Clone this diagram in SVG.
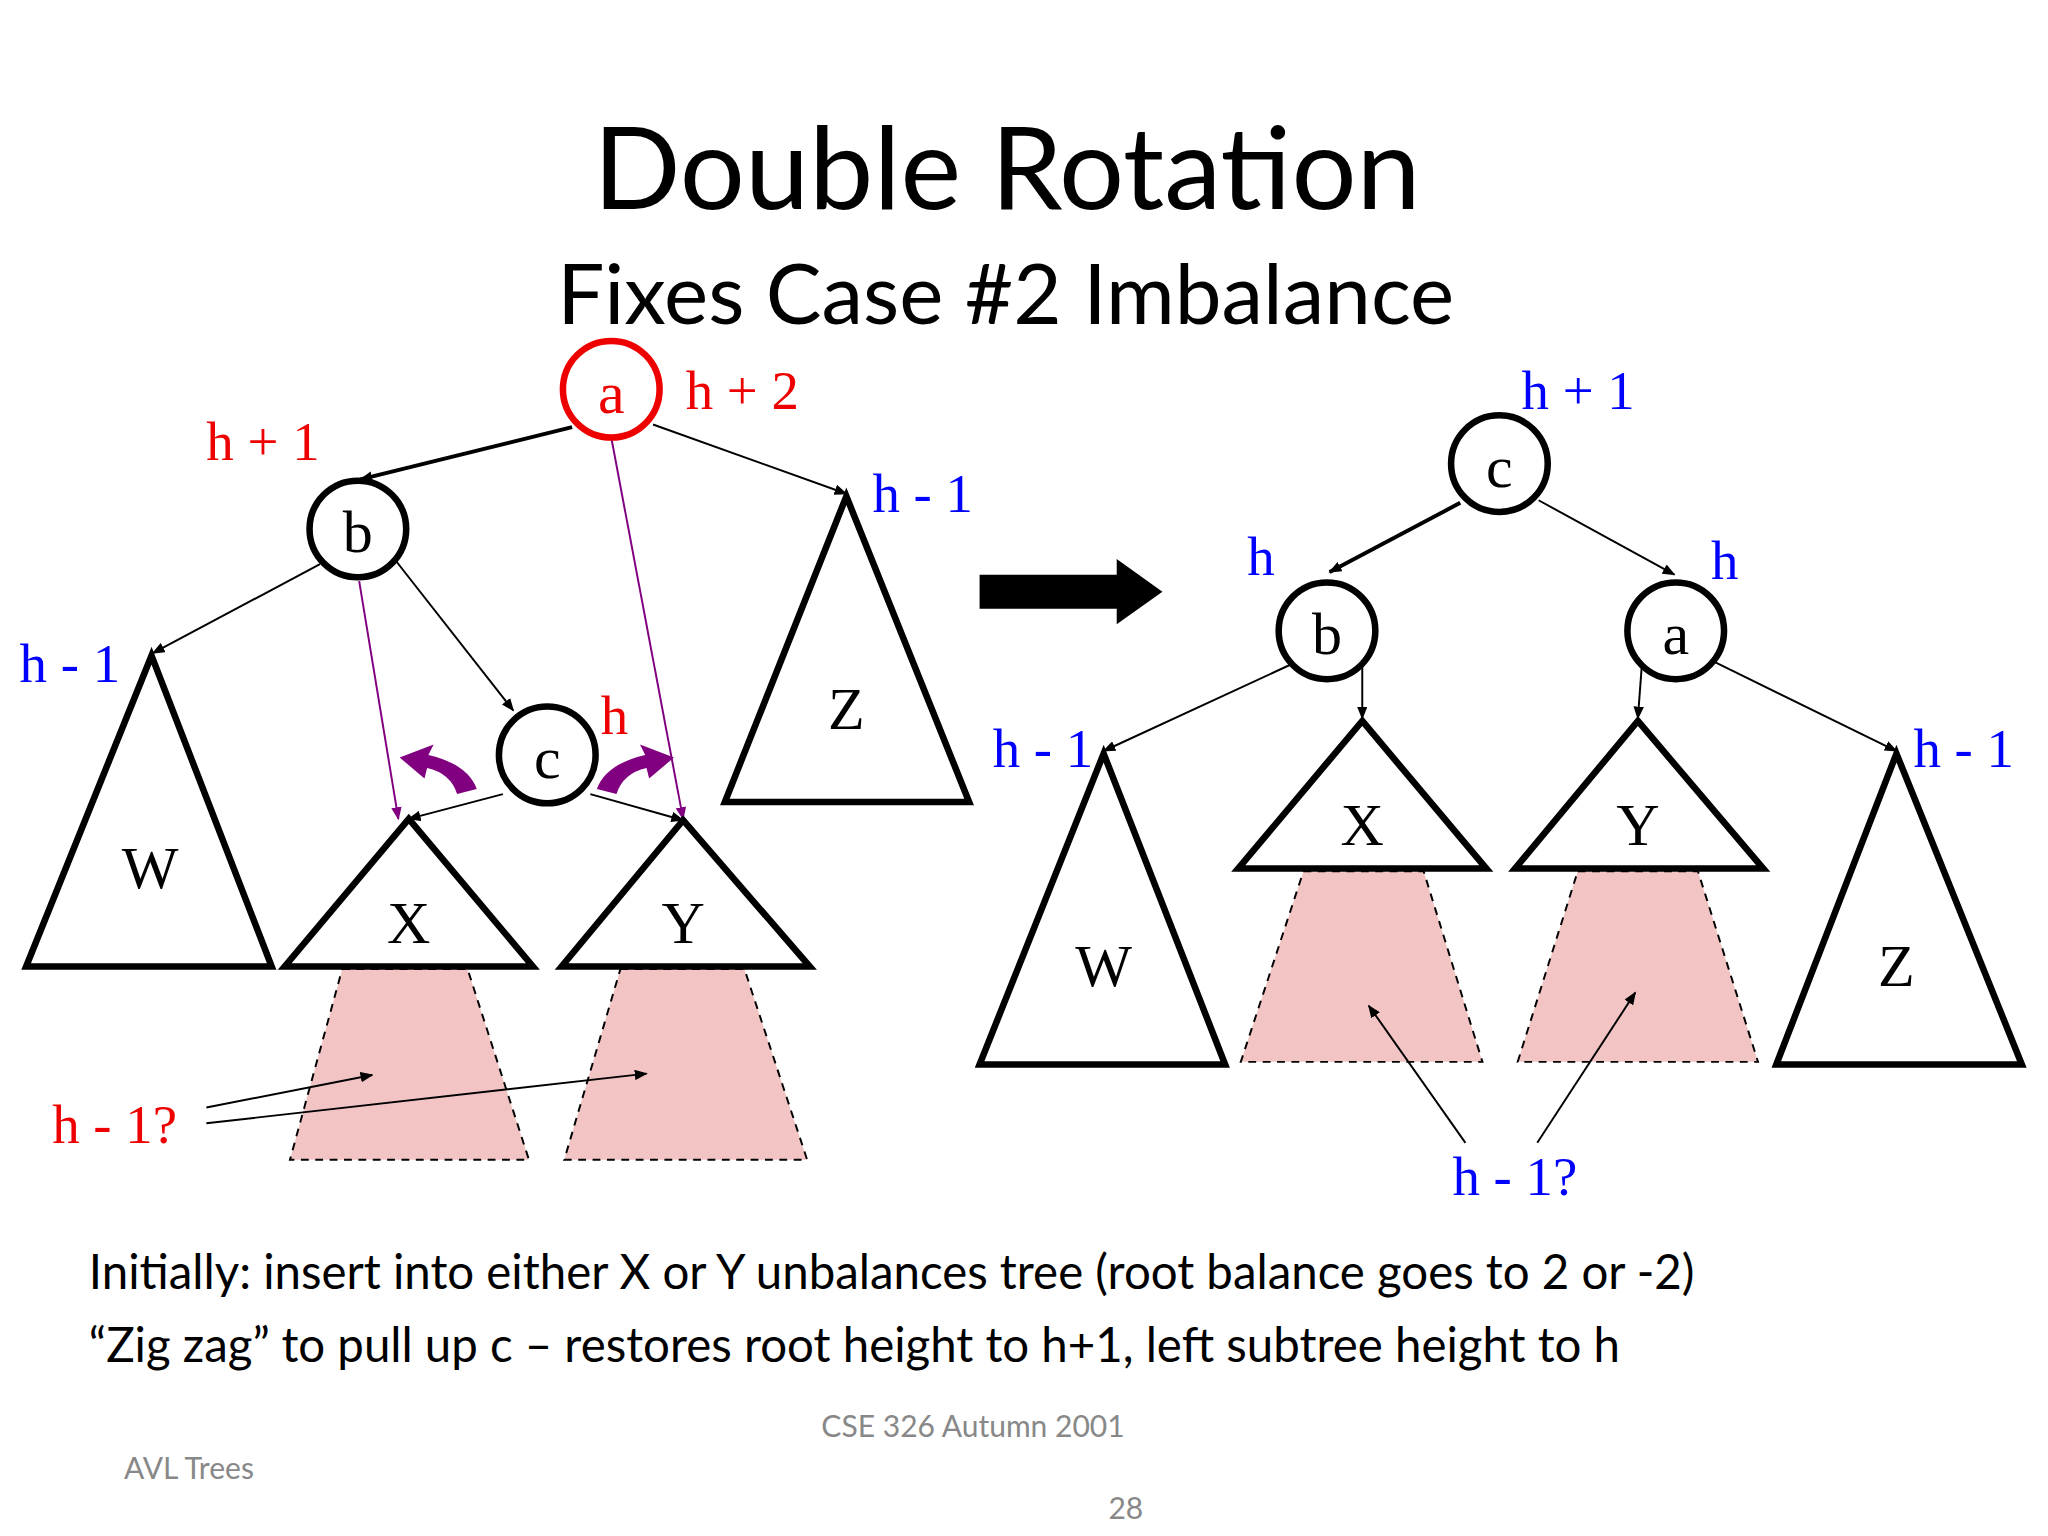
<svg xmlns="http://www.w3.org/2000/svg" width="2048" height="1536" viewBox="0 0 2048 1536">
<style>
.n{fill:#fff;stroke:#000;stroke-width:5}
.t{fill:#fff;stroke:#000;stroke-width:5;stroke-linejoin:miter}
.p{fill:#f2c4c4;stroke:#000;stroke-width:1.5;stroke-dasharray:6,5}
.lab{font-family:"Liberation Serif",serif;font-size:46px;text-anchor:middle}
.h{font-family:"Liberation Serif",serif;font-size:42px}
.e{stroke:#000;fill:none;marker-end:url(#ar)}
.pu{stroke:#800080;stroke-width:1.5;fill:none;marker-end:url(#ap)}
.s{font-family:Lato,"Open Sans",sans-serif}
</style>
<defs>
<marker id="ar" markerWidth="10" markerHeight="8" refX="9" refY="4" orient="auto" markerUnits="userSpaceOnUse"><path d="M0,0L10,4L0,8z" fill="#000"/></marker>
<marker id="ap" markerWidth="10" markerHeight="8" refX="9" refY="4" orient="auto" markerUnits="userSpaceOnUse"><path d="M0,0L10,4L0,8z" fill="#800080"/></marker>
</defs>
<rect width="2048" height="1536" fill="#fff"/>
<g transform="scale(1.3061)">
<text class="s" x="771" y="160" font-size="88" text-anchor="middle">Double Rotation</text>
<text class="s" x="770" y="248" font-size="64" text-anchor="middle">Fixes Case #2 Imbalance</text>

<g id="pinkL">
<polygon class="p" points="262,742 358,742 405,888 222,888"/>
<polygon class="p" points="475,742 570,742 618,888 432,888"/>
<polygon class="p" points="998,667 1090,667 1135,813 950,813"/>
<polygon class="p" points="1208,667 1300,667 1346,813 1162,813"/>
</g>

<g id="connectors">
<line class="e" x1="438" y1="327" x2="276" y2="367" stroke-width="3"/>
<line class="e" x1="500" y1="325" x2="648" y2="378" stroke-width="1.5"/>
<line class="e" x1="245" y1="432" x2="117" y2="500" stroke-width="1.5"/>
<line class="e" x1="302" y1="428" x2="393" y2="544" stroke-width="1.5"/>
<line class="e" x1="385" y1="608" x2="313" y2="627" stroke-width="1.5"/>
<line class="e" x1="452" y1="608" x2="523" y2="628" stroke-width="1.5"/>
<line class="pu" x1="275" y1="445" x2="305" y2="627"/>
<line class="pu" x1="468" y1="335" x2="523" y2="627"/>
<line class="e" x1="158" y1="848" x2="285" y2="823" stroke-width="1.5"/>
<line class="e" x1="158" y1="860" x2="495" y2="822" stroke-width="1.5"/>
<line class="e" x1="1118" y1="385" x2="1018" y2="438" stroke-width="3"/>
<line class="e" x1="1178" y1="383" x2="1282" y2="440" stroke-width="1.5"/>
<line class="e" x1="990" y1="508" x2="845" y2="575" stroke-width="1.5"/>
<line class="e" x1="1043" y1="510" x2="1043" y2="550" stroke-width="1.5"/>
<line class="e" x1="1257" y1="510" x2="1254" y2="550" stroke-width="1.5"/>
<line class="e" x1="1313" y1="507" x2="1452" y2="575" stroke-width="1.5"/>
<line class="e" x1="1122" y1="875" x2="1048" y2="770" stroke-width="1.5"/>
<line class="e" x1="1177" y1="875" x2="1252" y2="760" stroke-width="1.5"/>
<path d="M365,604 Q358,585 328,578 L332,570 L306,580 L325,596 L327,588 Q345,592 350,608 Z" fill="#800080"/>
<path d="M457,604 Q464,585 494,578 L490,570 L516,580 L497,596 L495,588 Q477,592 472,608 Z" fill="#800080"/>
<polygon points="750,440 855,440 855,428 890,453 855,478 855,466 750,466" fill="#000"/>
</g>

<g id="W1"><polygon class="t" points="116,502 208,740 20,740"/><text class="lab" x="115" y="680">W</text></g>
<g id="Z1"><polygon class="t" points="648,380 742,614 555,614"/><text class="lab" x="648" y="558">Z</text></g>
<g id="X1"><polygon class="t" points="313,627 408,740 218,740"/><text class="lab" x="313" y="722">X</text></g>
<g id="Y1"><polygon class="t" points="523,628 620,740 430,740"/><text class="lab" x="523" y="722">Y</text></g>
<g id="a1"><circle cx="468" cy="298" r="37" fill="#fff" stroke="#e00" stroke-width="5"/><text class="lab" x="468" y="316" fill="#e00">a</text></g>
<g id="b1"><circle class="n" cx="274" cy="405" r="37"/><text class="lab" x="274" y="423">b</text></g>
<g id="c1"><circle class="n" cx="419" cy="578" r="37"/><text class="lab" x="419" y="596">c</text></g>

<g id="W2"><polygon class="t" points="845,577 938,815 750,815"/><text class="lab" x="845" y="755">W</text></g>
<g id="X2"><polygon class="t" points="1043,552 1138,665 948,665"/><text class="lab" x="1043" y="647">X</text></g>
<g id="Y2"><polygon class="t" points="1254,552 1350,665 1160,665"/><text class="lab" x="1254" y="647">Y</text></g>
<g id="Z2"><polygon class="t" points="1452,577 1548,815 1360,815"/><text class="lab" x="1452" y="755">Z</text></g>
<g id="c2"><circle class="n" cx="1148" cy="355" r="37"/><text class="lab" x="1148" y="373">c</text></g>
<g id="b2"><circle class="n" cx="1016" cy="483" r="37"/><text class="lab" x="1016" y="501">b</text></g>
<g id="a2"><circle class="n" cx="1283" cy="483" r="37"/><text class="lab" x="1283" y="501">a</text></g>

<g id="labels" class="h">
<text x="525" y="313" fill="#e00">h + 2</text>
<text x="158" y="352" fill="#e00">h + 1</text>
<text x="668" y="392" fill="#00f">h - 1</text>
<text x="15" y="522" fill="#00f">h - 1</text>
<text x="460" y="562" fill="#e00">h</text>
<text x="40" y="875" fill="#e00">h - 1?</text>
<text x="1165" y="313" fill="#00f">h + 1</text>
<text x="955" y="440" fill="#00f">h</text>
<text x="1310" y="443" fill="#00f">h</text>
<text x="760" y="587" fill="#00f">h - 1</text>
<text x="1465" y="587" fill="#00f">h - 1</text>
<text x="1112" y="915" fill="#00f">h - 1?</text>
</g>

<text class="s" x="68" y="987" font-size="36.3">Initially: insert into either X or Y unbalances tree (root balance goes to 2 or -2)</text>
<text class="s" x="68" y="1043" font-size="36.3">“Zig zag” to pull up c – restores root height to h+1, left subtree height to h</text>
<text class="s" x="745" y="1100" font-size="23" fill="#888" text-anchor="middle">CSE 326 Autumn 2001</text>
<text class="s" x="95" y="1132" font-size="23" fill="#888">AVL Trees</text>
<text class="s" x="862" y="1163" font-size="23" fill="#888" text-anchor="middle">28</text>
</g>
</svg>
